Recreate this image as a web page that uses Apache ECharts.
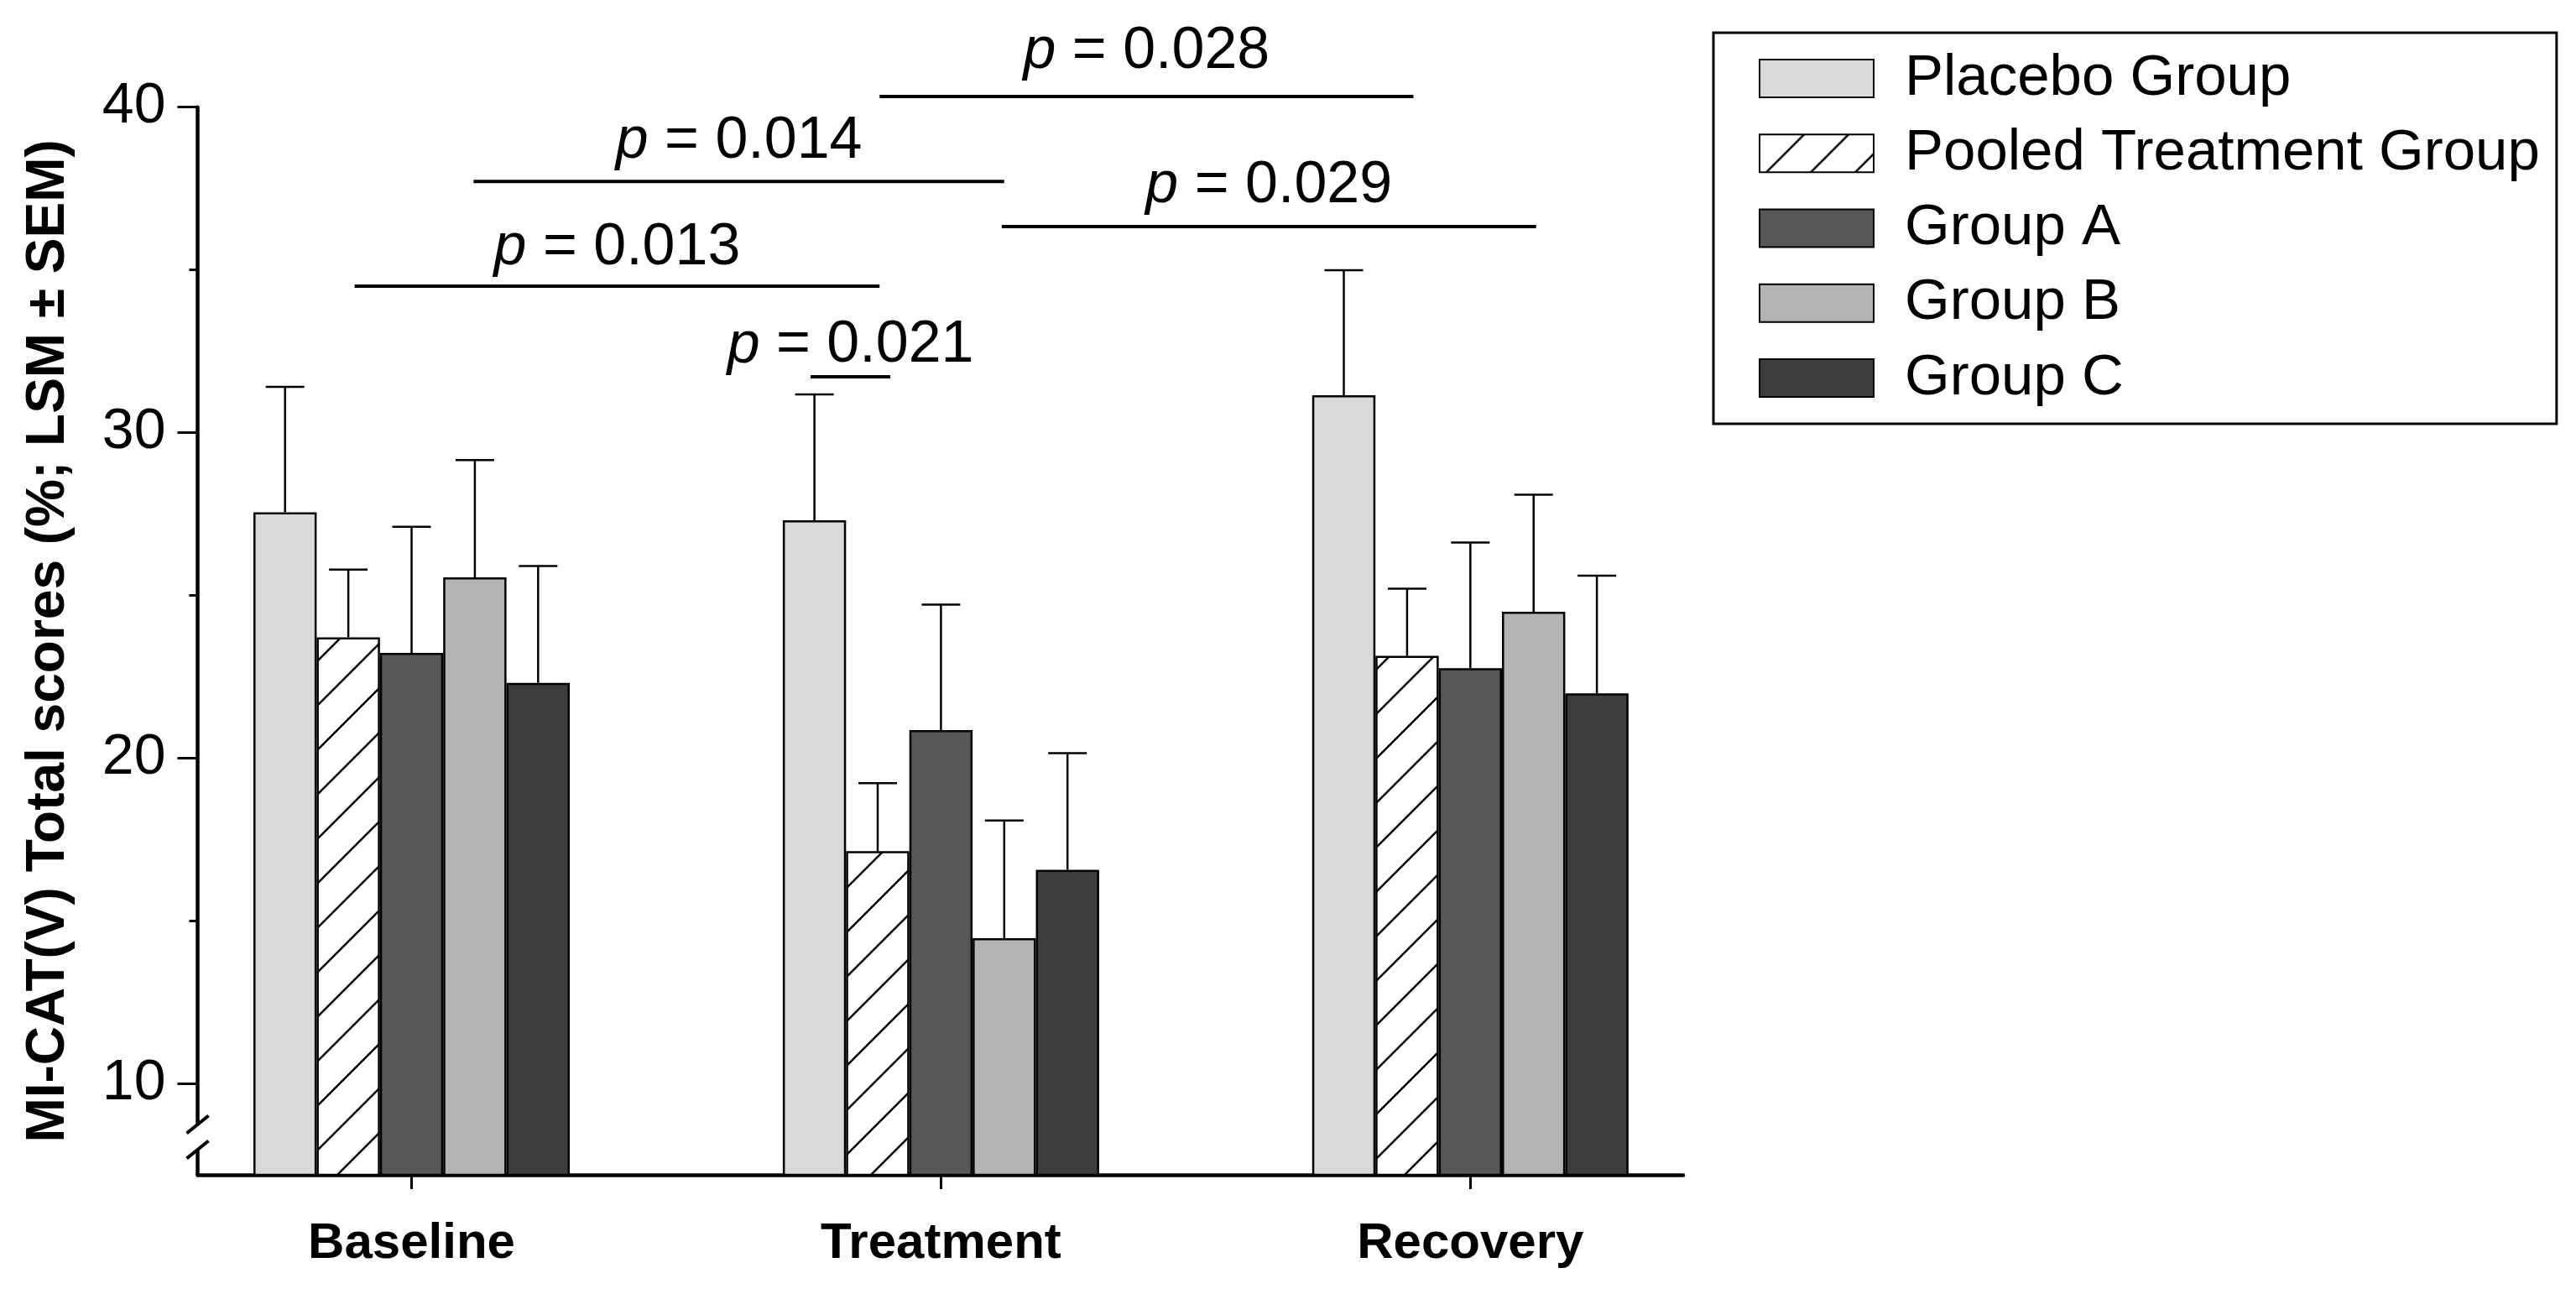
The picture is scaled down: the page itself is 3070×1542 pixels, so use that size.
<!DOCTYPE html>
<html>
<head>
<meta charset="utf-8">
<script src="https://cdn.jsdelivr.net/npm/echarts@6/dist/echarts.min.js"></script>
<style>html,body{margin:0;padding:0;background:#fff}#c{width:3070px;height:1542px}</style>
</head>
<body>
<div id="c"></div>
<script>
// ---------- data ----------
const categories = ['Baseline', 'Treatment', 'Recovery'];
const seriesNames = ['Placebo Group', 'Pooled Treatment Group', 'Group A', 'Group B', 'Group C'];
const placebo = [27.56, 27.31, 31.15];
const pooled  = [23.72, 17.15, 23.15];
const groupA  = [23.24, 20.87, 22.77];
const groupB  = [25.56, 14.48, 24.50];
const groupC  = [22.32, 16.58, 22.00];
const placeboSem = [3.85, 3.87, 3.84];
const pooledSem  = [2.08, 2.09, 2.06];
const groupASem  = [3.87, 3.85, 3.86];
const groupBSem  = [3.60, 3.61, 3.60];
const groupCSem  = [3.59, 3.58, 3.61];
const yMajorTicks = [10, 20, 30, 40];
const yMinorTicks = [15, 25, 35];
const yMin = 7.21, yMax = 40;
const axisBreakAt = 8.37;
// p-value comparisons
const pLabels    = ['0.013', '0.014', '0.028', '0.029', '0.021'];
const pFromCat   = [0, 0, 1, 1, 1];
const pFromBar   = [1.10, 2.98, 1.03, 2.96, -0.06];
const pToCat     = [1, 1, 2, 2, 1];
const pToBar     = [1.03, 3.00, 1.10, 3.04, 1.20];
const pLineValue = [34.50, 37.72, 40.33, 36.33, 31.72];
const pTextValue = [35.04, 38.32, 41.07, 36.95, 32.04];

// ---------- styling ----------
const BAR_W = 75.4;
const CAP_W = 46;
const FONT = 'Liberation Sans';
const colors = ['#d9d9d9', null, '#575757', '#b3b3b1', '#3d3d3d'];

function hatchPattern() {
  const s = 53;
  const cv = document.createElement('canvas');
  cv.width = s; cv.height = s;
  const ctx = cv.getContext('2d');
  ctx.fillStyle = '#ffffff';
  ctx.fillRect(0, 0, s, s);
  ctx.strokeStyle = '#000000';
  ctx.lineWidth = 2.5;
  ctx.beginPath();
  ctx.moveTo(0, s); ctx.lineTo(s, 0);
  ctx.moveTo(-10, 10); ctx.lineTo(10, -10);
  ctx.moveTo(s - 10, s + 10); ctx.lineTo(s + 10, s - 10);
  ctx.stroke();
  return { image: cv, repeat: 'repeat' };
}
colors[1] = hatchPattern();

const barValues = [placebo, pooled, groupA, groupB, groupC];
const semValues = [placeboSem, pooledSem, groupASem, groupBSem, groupCSem];

const barSeries = seriesNames.map((name, i) => ({
  type: 'bar',
  name: name,
  barWidth: BAR_W,
  barGap: '0%',
  clip: true,
  z: 2,
  data: barValues[i].map((v, j) => [j + 1, v]),
  itemStyle: { color: colors[i], borderColor: '#000', borderWidth: 2.5 }
}));

const errData = [];
barValues.forEach((arr, s) => arr.forEach((v, j) => errData.push([j + 1, v, semValues[s][j], s])));

const errSeries = {
  type: 'custom',
  z: 3,
  data: errData,
  encode: { x: 0, y: 1 },
  renderItem: function (params, api) {
    const x = api.value(0), v = api.value(1), sem = api.value(2), s = api.value(3);
    const base = api.coord([x, v]);
    const top = api.coord([x, v + sem]);
    const cx = base[0] + (s - 2) * BAR_W;
    const st = { stroke: '#000', lineWidth: 2.5 };
    return {
      type: 'group',
      children: [
        { type: 'line', shape: { x1: cx, y1: base[1], x2: cx, y2: top[1] }, style: st },
        { type: 'line', shape: { x1: cx - CAP_W / 2, y1: top[1], x2: cx + CAP_W / 2, y2: top[1] }, style: st }
      ]
    };
  }
};

const pData = pLabels.map((l, i) => [pFromCat[i] + 1, pLineValue[i], pToCat[i] + 1, pTextValue[i]]);
const pSeries = {
  type: 'custom',
  z: 4,
  clip: false,
  data: pData,
  encode: { x: 0, y: 1 },
  renderItem: function (params, api) {
    const i = params.dataIndex;
    const a = api.coord([api.value(0), api.value(1)]);
    const b = api.coord([api.value(2), api.value(1)]);
    const x1 = a[0] + (pFromBar[i] - 2) * BAR_W;
    const x2 = b[0] + (pToBar[i] - 2) * BAR_W;
    const ty = api.coord([api.value(0), api.value(3)])[1];
    const fs = 70;
    return {
      type: 'group',
      children: [
        { type: 'line', shape: { x1: x1, y1: a[1], x2: x2, y2: a[1] }, style: { stroke: '#000', lineWidth: 4 } },
        {
          type: 'text',
          x: (x1 + x2) / 2,
          y: ty - 0.35 * fs,
          style: {
            text: '{i|p} = ' + pLabels[i],
            rich: { i: { fontStyle: 'italic', fontSize: fs, fontFamily: FONT, fill: '#000' } },
            fontSize: fs, fontFamily: FONT, fill: '#000',
            align: 'center', verticalAlign: 'middle'
          }
        }
      ]
    };
  }
};

const chart = echarts.init(document.getElementById('c'), null, { renderer: 'canvas' });
const xMin = 0.5958, xMax = 3.4021;

chart.setOption({
  animation: false,
  backgroundColor: '#fff',
  textStyle: { fontFamily: FONT, color: '#000' },
  grid: { left: 235.5, right: 1064, top: 127.7, bottom: 142, containLabel: false },
  legend: {
    data: seriesNames,
    orient: 'vertical',
    left: 2042, top: 39,
    padding: [20, 20, 20, 54],
    itemGap: 20.25,
    itemWidth: 136, itemHeight: 45,
    icon: 'rect',
    borderColor: '#000', borderWidth: 3,
    selectedMode: false,
    itemStyle: { borderColor: '#000', borderWidth: 2 },
    textStyle: { fontFamily: FONT, fontSize: 69, color: '#000', padding: [0, 0, 0, 32] }
  },
  xAxis: {
    type: 'value', min: xMin, max: xMax,
    splitLine: { show: false },
    axisLine: { show: true, lineStyle: { color: '#000', width: 4.5 } },
    axisTick: { show: true, customValues: [1, 2, 3], length: 17, lineStyle: { color: '#000', width: 3 } },
    axisLabel: {
      customValues: [1, 2, 3],
      formatter: v => categories[Math.round(v) - 1],
      fontFamily: FONT, fontWeight: 'bold', fontSize: 60, color: '#000', margin: 52
    }
  },
  yAxis: [{
    type: 'value', min: yMin, max: yMax,
    name: 'MI-CAT(V) Total scores (%; LSM ± SEM)',
    nameLocation: 'middle', nameGap: 145,
    nameTextStyle: { fontFamily: FONT, fontWeight: 'bold', fontSize: 64, color: '#000' },
    splitLine: { show: false },
    axisLine: { show: true, lineStyle: { color: '#000', width: 4.5 } },
    axisTick: { show: true, customValues: yMajorTicks, length: 24, lineStyle: { color: '#000', width: 3 } },
    axisLabel: { customValues: yMajorTicks, fontFamily: FONT, fontSize: 68, color: '#000', margin: 38 }
  }, {
    type: 'value', min: yMin, max: yMax, position: 'left',
    splitLine: { show: false },
    axisLine: { show: false },
    axisTick: { show: true, customValues: yMinorTicks, length: 10, lineStyle: { color: '#000', width: 3 } },
    axisLabel: { show: false }
  }],
  series: barSeries.concat([errSeries, pSeries])
});

// axis break marks on the y axis
const bp = chart.convertToPixel({ gridIndex: 0 }, [xMin, axisBreakAt]);
const ax = bp[0], by = bp[1];
chart.setOption({
  graphic: [
    { type: 'rect', shape: { x: ax - 8, y: by - 14, width: 16, height: 28 }, style: { fill: '#fff' }, z: 100 },
    { type: 'line', shape: { x1: ax - 13, y1: by - 15 + 10.5, x2: ax + 13, y2: by - 15 - 10.5 }, style: { stroke: '#000', lineWidth: 4 }, z: 101 },
    { type: 'line', shape: { x1: ax - 13, y1: by + 15 + 10.5, x2: ax + 13, y2: by + 15 - 10.5 }, style: { stroke: '#000', lineWidth: 4 }, z: 101 }
  ]
});
</script>
</body>
</html>
